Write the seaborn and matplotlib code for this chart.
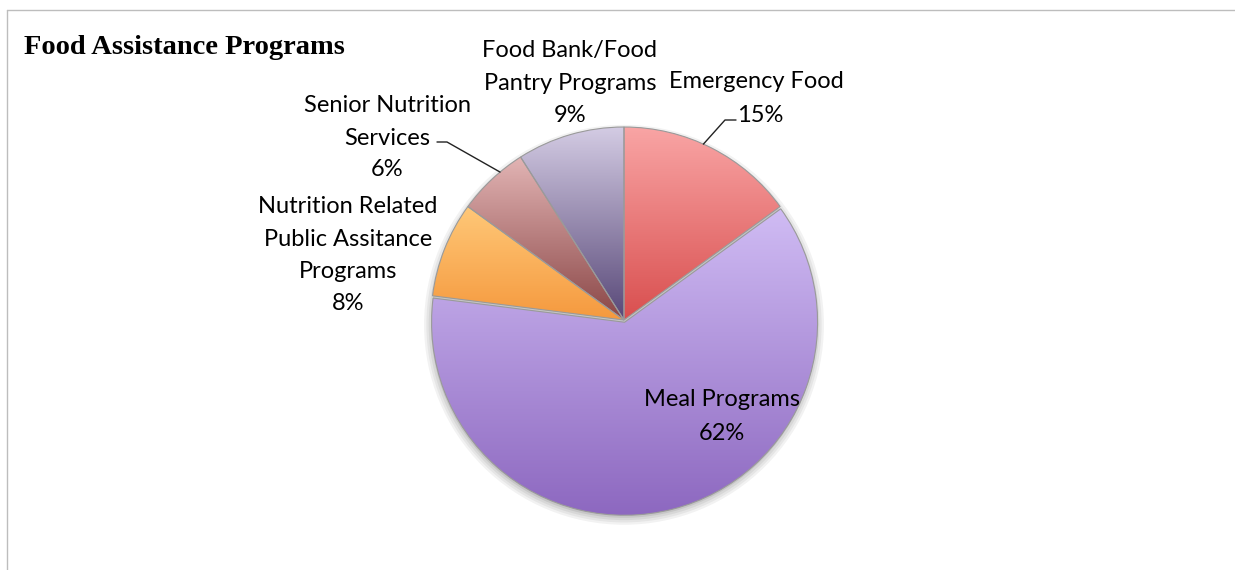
"""
Food Assistance Programs - pie chart
"""
import numpy as np
import matplotlib
matplotlib.use("Agg")
import matplotlib.pyplot as plt
import seaborn as sns
from matplotlib.lines import Line2D
from matplotlib.patches import Circle
from matplotlib.colors import LinearSegmentedColormap

# Data
categories = ["Emergency Food", "Meal Programs",
              "Nutrition Related\nPublic Assitance\nPrograms",
              "Senior Nutrition\nServices", "Food Bank/Food\nPantry Programs"]
shares = [15, 62, 8, 6, 9]
pct_labels = ["15%", "62%", "8%", "6%", "9%"]

# light (top) / dark (bottom) shade per slice
tops = ["#f9a5a5", "#d0bcf4", "#ffc878", "#e2b4b4", "#d4cce4"]
bottoms = ["#d94f4f", "#8d68c0", "#f5993e", "#8a4646", "#584878"]

W, H = 1235, 570
sns.set_theme(style="white")
plt.rcParams["font.family"] = ["Lato", "DejaVu Sans"]

fig = plt.figure(figsize=(W / 100, H / 100), dpi=100)
fig.patch.set_facecolor("white")


def px(x, y):
    """pixel position (from top-left) -> figure fraction"""
    return x / W, 1 - y / H


# pie axes: centre ~ (624, 320) px, radius ~193 px
R = 193
half = 1.2 * R
ax = fig.add_axes([(624 - half) / W, (H - 320 - half) / H, 2 * half / W, 2 * half / H])
ax.axis("off")

# soft shadow below the pie
for k, a in enumerate([0.05, 0.05, 0.06, 0.08]):
    ax.add_patch(Circle((0, -0.025), 1.0 + 0.012 * (3 - k), color="black", alpha=a,
                        lw=0, zorder=0))

explode = [0, 0.012, 0, 0, 0]
wedges, _ = ax.pie(shares, startangle=90, counterclock=False, explode=explode,
                   colors=bottoms, radius=1.0,
                   wedgeprops=dict(edgecolor="#9a9a9a", linewidth=0.8))

# vertical gradient inside every slice
for w, c_top, c_bot in zip(wedges, tops, bottoms):
    ext = w.get_path().get_extents()
    cmap = LinearSegmentedColormap.from_list("g", [c_top, c_bot])
    grad = np.linspace(0, 1, 256).reshape(-1, 1)
    im = ax.imshow(grad, cmap=cmap, aspect="auto", origin="upper",
                   extent=[ext.x0, ext.x1, ext.y0, ext.y1], zorder=w.get_zorder() + 0.1)
    im.set_clip_path(w)
    w.set_facecolor("none")
    w.set_zorder(w.get_zorder() + 0.2)

ax.set_xlim(-1.2, 1.2)
ax.set_ylim(-1.2, 1.2)
ax.set_aspect("equal")

# frame lines like the original slide box
fig.add_artist(Line2D([7 / W, 1], [1 - 10 / H, 1 - 10 / H], color="#bdbdbd", lw=1.0))
fig.add_artist(Line2D([7 / W, 7 / W], [0, 1 - 10 / H], color="#bdbdbd", lw=1.0))

# title
fig.text(*px(24, 48), "Food Assistance Programs", fontsize=20.5, fontweight="bold",
         family=["Liberation Serif", "DejaVu Serif"], ha="left", va="center", color="black")

lab_kw = dict(fontsize=17, color="black", ha="center", va="center", linespacing=1.7)

# labels (text positions in pixels)
fig.text(*px(570, 67), categories[4], **lab_kw)
fig.text(*px(570, 116), pct_labels[4], **lab_kw)
fig.text(*px(756, 82), categories[0], **lab_kw)
fig.text(*px(760, 116), pct_labels[0], **lab_kw)
fig.text(*px(387, 122), categories[3], **lab_kw)
fig.text(*px(387, 170), pct_labels[3], **lab_kw)
fig.text(*px(348, 239), categories[2], **lab_kw)
fig.text(*px(348, 303), pct_labels[2], **lab_kw)
fig.text(*px(722, 400), categories[1], **lab_kw)
fig.text(*px(722, 433), pct_labels[1], **lab_kw)


# leader lines from slice edge to label
def edge_point(w, frac):
    ang = np.deg2rad(w.theta1 + frac * (w.theta2 - w.theta1))
    return np.cos(ang), np.sin(ang)


def to_fig(xd, yd):
    return fig.transFigure.inverted().transform(ax.transData.transform((xd, yd)))


ex, ey = to_fig(*edge_point(wedges[0], 0.55))
x1, y1 = px(725, 120)
x2, y2 = px(736, 120)
fig.add_artist(Line2D([ex, x1, x2], [ey, y1, y2], color="#222222", lw=1.0))

ex, ey = to_fig(*edge_point(wedges[3], 0.35))
x1, y1 = px(447, 142)
x2, y2 = px(437, 142)
fig.add_artist(Line2D([ex, x1, x2], [ey, y1, y2], color="#222222", lw=1.0))

fig.savefig("out.png", dpi=100, facecolor="white")
